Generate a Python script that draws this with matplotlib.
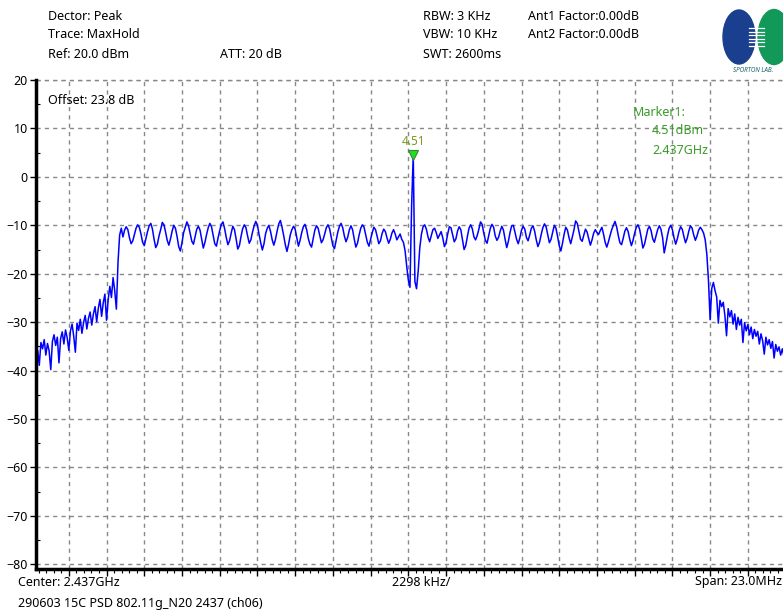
import numpy as np
import matplotlib
matplotlib.use("Agg")
import matplotlib.pyplot as plt
from matplotlib.patches import Ellipse
from matplotlib.ticker import MultipleLocator

plt.rcParams['font.family'] = ['Noto Sans', 'DejaVu Sans']

# sweep settings (MHz)
f_start = 2425.5
f_stop = 2448.5
f_step = 0.05
div_mhz = 1.15

# trace levels in dBm, one per sweep point
lower_skirt = [-37.5, -35.8, -38.9, -34.2, -35.5, -33.6, -36.8, -34.4, -35.9, -39.8,
               -34.0, -32.6, -34.8, -33.1, -38.4, -33.4, -32.0, -34.5, -31.6, -33.2,
               -35.8, -31.8, -30.4, -32.9, -36.2, -30.2, -31.7, -29.4, -32.3, -30.1,
               -28.6, -31.4, -29.2, -27.9, -30.6, -28.3, -26.8, -29.9, -27.1, -25.3,
               -28.8, -26.0, -24.2, -29.6, -25.4, -22.6, -24.9, -20.8, -23.5, -27.3,
               -17.6, -12.0, -10.6]
left_band = [-12.4, -11.0, -10.3, -10.9, -12.6, -13.8, -13.2, -11.9, -10.6, -9.9,
             -10.4, -11.8, -13.5, -14.2, -12.7, -11.3, -10.1, -9.6, -10.8, -12.9,
             -14.6, -13.9, -12.2, -10.9, -9.4, -9.9, -11.4, -13.1, -14.1, -12.8,
             -11.2, -10.0, -10.6, -12.3, -14.4, -15.3, -13.6, -11.5, -10.4, -9.3,
             -10.1, -11.7, -13.3, -13.9, -12.4, -10.8, -10.2, -11.0, -12.9, -14.7,
             -13.5, -11.9, -10.5, -9.6, -10.3, -12.0, -13.8, -14.3, -12.6, -11.1,
             -9.8, -9.3, -10.7, -12.5, -14.0, -13.2, -11.6, -10.2, -10.9, -12.8,
             -14.9, -14.2, -12.3, -10.7, -9.9, -10.5, -12.2, -13.7, -13.0, -11.4,
             -10.1, -9.2, -10.0, -11.9, -13.6, -15.1, -13.8, -11.7, -10.6, -10.0,
             -11.3, -13.0, -14.1, -12.9, -11.2, -9.7, -9.0, -10.4, -12.1, -14.0,
             -15.4, -13.9, -12.0, -10.9, -10.2, -10.8, -12.6, -14.3, -13.1, -11.5,
             -10.3, -9.8, -10.9, -12.7, -13.9, -14.5, -12.8, -11.0, -10.1, -10.6,
             -12.1, -13.6, -13.0, -11.8, -10.5, -9.9, -10.7, -12.4, -14.2, -14.8,
             -13.1, -11.4, -10.2, -9.6, -10.5, -12.2, -13.4, -12.5, -11.0, -10.1,
             -10.9, -12.8, -14.5, -13.7, -12.0, -10.6, -9.9, -10.4, -12.0, -13.5,
             -14.3, -12.9, -11.5, -10.4, -10.9, -12.3, -13.8, -13.2, -11.7, -10.8,
             -11.3, -12.6, -13.7, -12.9, -11.6, -10.9, -11.8, -13.0, -12.4, -11.8,
             -12.9]
center_dip = [-13.5, -15.2, -18.4, -21.3, -22.8, -6.0, 4.51, -21.6, -23.1, -19.5,
              -14.6, -11.8]
right_band = [-10.3, -9.9, -10.8, -12.4, -13.4, -12.1, -10.9, -10.6, -11.5, -12.7,
              -12.0, -11.3, -12.6, -14.4, -13.6, -11.8, -10.3, -10.5, -12.0, -13.4,
              -12.8, -11.2, -10.3, -10.9, -12.9, -15.0, -14.2, -12.3, -10.6, -9.9,
              -10.7, -12.4, -13.0, -12.1, -10.8, -9.3, -9.8, -11.6, -13.1, -13.7,
              -12.2, -10.6, -9.8, -10.4, -12.2, -13.1, -12.5, -11.2, -10.2, -11.0,
              -12.9, -14.6, -13.3, -11.5, -10.1, -10.0, -11.4, -12.9, -13.8, -12.6,
              -11.0, -10.2, -10.8, -12.5, -13.2, -12.0, -10.6, -10.1, -11.2, -13.0,
              -14.4, -13.5, -11.9, -10.5, -9.7, -10.3, -12.0, -13.6, -12.9, -11.4,
              -10.0, -10.6, -12.3, -14.2, -15.3, -13.7, -11.8, -10.4, -11.0, -12.6,
              -13.8, -12.4, -10.9, -9.1, -9.6, -11.2, -12.9, -13.3, -12.0, -10.8,
              -11.4, -12.8, -14.1, -13.0, -11.6, -10.9, -11.5, -11.9, -11.1, -10.4,
              -11.8, -13.5, -14.5, -13.4, -12.1, -10.9, -10.0, -9.2, -10.3, -12.1,
              -13.6, -14.0, -12.7, -11.2, -10.5, -11.3, -12.9, -14.2, -13.1, -11.6,
              -10.4, -9.9, -10.8, -12.6, -14.7, -13.9, -12.3, -10.8, -10.2, -11.1,
              -12.8, -13.5, -12.2, -10.9, -10.1, -10.8, -12.5, -15.7, -14.0, -12.1,
              -10.6, -10.0, -10.9, -12.6, -13.9, -12.8, -11.3, -10.3, -10.8, -12.3,
              -13.6, -12.7, -11.2, -10.1, -10.6, -12.0, -13.1, -12.2, -11.0, -10.4,
              -10.9, -11.6, -13.0]
upper_skirt = [-16.0, -21.5, -29.5, -23.0, -21.8, -23.5, -24.8, -30.2, -25.5, -26.8,
               -25.9, -28.6, -32.8, -27.2, -28.9, -27.6, -30.4, -28.3, -31.5, -29.0,
               -30.6, -29.4, -34.2, -30.1, -31.8, -30.5, -32.6, -31.0, -33.4, -31.5,
               -32.9, -31.9, -34.5, -32.4, -33.8, -36.6, -33.1, -34.7, -33.6, -35.4,
               -34.0, -37.4, -34.6, -36.0, -35.1, -36.8, -35.5, -37.0, -36.2, -37.5,
               -36.4, -37.1]

marker_freq = 2437.0
marker_level = 4.51

trace = np.array(lower_skirt + left_band + center_dip + right_band + upper_skirt)
freq = f_start + f_step * np.arange(len(trace))

W, H = 783, 612
fig = plt.figure(figsize=(W / 100, H / 100), dpi=100)
ax = fig.add_axes([36 / W, 1 - 569.2 / H, 754.5 / W, 489.2 / H])

ax.plot(freq, trace, color='#0000ff', lw=1.1)
ax.plot([marker_freq], [marker_level], marker='v', ms=7, color='#22dd22',
        mec='#338833', mew=0.8, zorder=5)
ax.annotate(f"{marker_level:.2f}", (marker_freq, marker_level), xytext=(0, 5),
            textcoords='offset points', ha='center', va='bottom',
            fontsize=8.5, color='#7a9a20')

ax.set_xlim(f_start, f_stop)
ax.set_ylim(-81, 20)
ax.xaxis.set_major_locator(MultipleLocator(div_mhz))
ax.xaxis.set_minor_locator(MultipleLocator(div_mhz / 5))
ax.yaxis.set_major_locator(MultipleLocator(10))
ax.yaxis.set_minor_locator(MultipleLocator(5))
ax.set_xticklabels([])
ax.tick_params(axis='x', which='major', direction='out', length=5, width=1)
ax.tick_params(axis='x', which='minor', direction='out', length=3, width=0.8)
ax.tick_params(axis='y', which='major', direction='out', length=4, width=1,
               labelsize=9, pad=2)
ax.tick_params(axis='y', which='minor', direction='in', length=3, width=0.8)
ax.grid(True, which='major', color='#888888', ls=(0, (3, 3)), lw=1)
ax.axhline(20, color='#888888', ls=(0, (3, 3)), lw=1, clip_on=False)
for side in ['top', 'right']:
    ax.spines[side].set_visible(False)
ax.spines['left'].set_linewidth(2.5)
ax.spines['bottom'].set_linewidth(2.5)

ax.text(12 / 754.5, 1 - 21 / 489.2, "Offset: 23.8 dB", transform=ax.transAxes,
        fontsize=9, va='center')
green = '#3a9a2a'
ax.text(597 / 754.5, 1 - 32 / 489.2, "Marker1:", transform=ax.transAxes,
        fontsize=9, va='center', color=green)
ax.text(616 / 754.5, 1 - 51 / 489.2, "4.51dBm", transform=ax.transAxes,
        fontsize=9, va='center', color=green)
ax.text(616 / 754.5, 1 - 71 / 489.2, "2.437GHz", transform=ax.transAxes,
        fontsize=9, va='center', color=green)


def ftext(x, y, s, **kw):
    fig.text(x / W, 1 - y / H, s, fontsize=9, va='center', **kw)


ftext(48, 16, "Dector: Peak")
ftext(48, 35, "Trace: MaxHold")
ftext(48, 54, "Ref: 20.0 dBm")
ftext(220, 54, "ATT: 20 dB")
ftext(423, 16, "RBW: 3 KHz")
ftext(423, 35, "VBW: 10 KHz")
ftext(423, 54, "SWT: 2600ms")
ftext(528, 16, "Ant1 Factor:0.00dB")
ftext(528, 35, "Ant2 Factor:0.00dB")
ftext(18, 582, "Center: 2.437GHz")
ftext(392, 582, "2298 kHz/")
ftext(782, 582, "Span: 23.0MHz", ha='right')
ftext(18, 603, "290603 15C PSD 802.11g_N20 2437 (ch06)")

# logo
lax = fig.add_axes([718 / W, 1 - 80 / H, 65 / W, 78 / H])
lax.set_xlim(718, 783)
lax.set_ylim(80, 2)
lax.axis('off')
lax.add_patch(Ellipse((739, 37), 32, 54, color='#1b3f8f'))
lax.add_patch(Ellipse((774, 37), 32, 55, color='#12995a'))
for yy in [28, 31.5, 35, 38.5, 42, 45.5]:
    lax.plot([749, 764], [yy, yy], color='white', lw=0.9)
lax.text(753, 71, "SPORTON LAB.", fontsize=4.5, fontweight='bold', style='italic',
         color='#1a6a6a', ha='center', va='center')

fig.savefig('out.png', dpi=100)
